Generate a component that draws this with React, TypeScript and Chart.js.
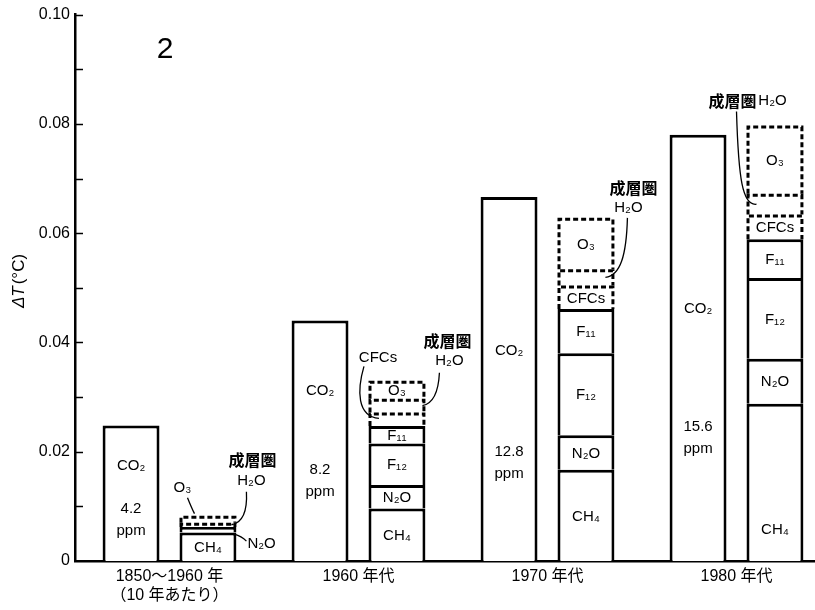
import React, { useEffect, useRef } from 'react';
import { Chart, registerables } from 'chart.js';

Chart.register(...registerables);

// ---- data (ΔT contributions, °C) ----
const groupLabels: (string | string[])[] = [['1850～1960 年', '（10 年あたり）'], '1960 年代', '1970 年代', '1980 年代'];
const co2 = [0.0248, 0.044, 0.0666, 0.078];
const co2ppm = ['4.2', '8.2', '12.8', '15.6'];
const ch4 = [0.0052, 0.0096, 0.0167, 0.0288];
const n2o = [0.001, 0.0043, 0.0063, 0.0082];
const f12 = [null, 0.0076, 0.015, 0.0148];
const f11 = [null, 0.0032, 0.0081, 0.0071];
const cfcs = [null, 0.0025, 0.0043, 0.0045];
const stratH2O = [0.0008, 0.0025, 0.003, 0.0038];
const o3 = [0.0013, 0.0033, 0.0094, 0.0125];
const yTickValues = [0, 0.02, 0.04, 0.06, 0.08, 0.1];
const yTickLabels = ['0', '0.02', '0.04', '0.06', '0.08', '0.10'];

// label anchor heights inside CO2 bars (data units)
const co2NameY = [0.0175, 0.0312, 0.0385, 0.0462];
const co2PpmY = [0.0096, 0.0166, 0.0199, 0.0245];

const SANS = "'Liberation Sans', 'Noto Sans CJK JP', sans-serif";
const JP = "'Noto Sans CJK JP', sans-serif";

const D = { co2: 0, ch4: 1, n2o: 2, f12: 3, f11: 4, cfcs: 5, h2o: 6, o3: 7 };
const innerText: (string | null)[] = [null, 'CH₄', 'N₂O', 'F₁₂', 'F₁₁', 'CFCs', null, 'O₃'];
const outsideLabel: Record<number, number[]> = { 2: [0], 5: [1], 7: [0] };

function rectOf(chart: any, di: number, i: number) {
  const el: any = chart.getDatasetMeta(di).data[i];
  const p = el.getProps(['x', 'y', 'base', 'width'], true);
  return {
    l: p.x - p.width / 2,
    r: p.x + p.width / 2,
    t: Math.min(p.y, p.base),
    b: Math.max(p.y, p.base),
    cx: p.x,
    cy: (p.y + p.base) / 2,
  };
}

function txt(ctx: CanvasRenderingContext2D, s: string, x: number, y: number, font: string, align: CanvasTextAlign = 'center') {
  ctx.font = font;
  ctx.textAlign = align;
  ctx.textBaseline = 'middle';
  ctx.fillStyle = '#000';
  ctx.fillText(s, x, y);
}

const annotPlugin = {
  id: 'annot',
  afterDraw(chart: any) {
    const ctx: CanvasRenderingContext2D = chart.ctx;
    const ys = chart.scales.y;
    const area = chart.chartArea;
    ctx.save();

    // inner y ticks (major + minor)
    ctx.strokeStyle = '#000';
    ctx.lineWidth = 1.5;
    for (let k = 1; k <= 10; k++) {
      const y = Math.round(ys.getPixelForValue(k / 100)) + 0.5;
      ctx.beginPath();
      ctx.moveTo(area.left, y);
      ctx.lineTo(area.left + 8, y);
      ctx.stroke();
    }

    // dashed outlines
    chart.data.datasets.forEach((ds: any, di: number) => {
      if (!ds.dashed) return;
      ds.data.forEach((v: any, i: number) => {
        if (v == null) return;
        const R = rectOf(chart, di, i);
        const l = R.l + 1.5, r = R.r - 1.5, t = R.t + 1.5;
        ctx.save();
        ctx.setLineDash([5, 3]);
        ctx.lineWidth = 3;
        ctx.strokeStyle = '#000';
        ctx.beginPath();
        ctx.moveTo(l, R.b);
        ctx.lineTo(l, t);
        ctx.lineTo(r, t);
        ctx.lineTo(r, R.b);
        ctx.stroke();
        ctx.restore();
      });
    });

    const F = `15px ${SANS}`;
    // CO2 bar texts
    co2.forEach((_, i) => {
      const R = rectOf(chart, D.co2, i);
      txt(ctx, 'CO₂', R.cx, ys.getPixelForValue(co2NameY[i]), F);
      const py = ys.getPixelForValue(co2PpmY[i]);
      txt(ctx, co2ppm[i], R.cx, py, F);
      txt(ctx, 'ppm', R.cx, py + 22, F);
    });

    // inner segment labels
    innerText.forEach((s, di) => {
      if (!s) return;
      const ds = chart.data.datasets[di];
      ds.data.forEach((v: any, i: number) => {
        if (v == null) return;
        if (outsideLabel[di] && outsideLabel[di].includes(i)) return;
        const R = rectOf(chart, di, i);
        let y = R.cy + 1;
        if (di === D.ch4 && R.b - R.t > 120) y = R.b - 31;
        txt(ctx, s, R.cx, y, F);
      });
    });

    ctx.strokeStyle = '#000';
    ctx.lineWidth = 1.3;
    const JPF = `bold 16px ${JP}`;

    // group 1 (1850-1960)
    {
      const O = rectOf(chart, D.o3, 0);
      const H = rectOf(chart, D.h2o, 0);
      const N = rectOf(chart, D.n2o, 0);
      txt(ctx, 'O₃', O.l + 3, O.t - 28, F);
      ctx.beginPath();
      ctx.moveTo(O.l + 8, O.t - 18);
      ctx.quadraticCurveTo(O.l + 12, O.t - 8, O.l + 15, O.t - 2);
      ctx.stroke();
      txt(ctx, 'N₂O', N.r + 11, N.t + 17, F, 'left');
      ctx.beginPath();
      ctx.moveTo(N.r - 2, N.t + 7);
      ctx.quadraticCurveTo(N.r + 5, N.t + 9, N.r + 10, N.t + 14);
      ctx.stroke();
      txt(ctx, '成層圏', H.r + 16, O.t - 56, JPF);
      txt(ctx, 'H₂O', H.r + 15, O.t - 35, F);
      ctx.beginPath();
      ctx.moveTo(H.r + 10, H.t - 31);
      ctx.bezierCurveTo(H.r + 11, H.t - 12, H.r + 6, H.t, H.r - 5, H.t + 2);
      ctx.stroke();
    }
    // group 2 (1960s)
    {
      const O = rectOf(chart, D.o3, 1);
      const H = rectOf(chart, D.h2o, 1);
      const C = rectOf(chart, D.cfcs, 1);
      txt(ctx, 'CFCs', C.cx - 19, C.t - 55, F);
      ctx.beginPath();
      ctx.moveTo(C.cx - 33, C.t - 46);
      ctx.bezierCurveTo(C.cx - 40, C.t - 22, C.cx - 40, C.t + 4, C.cx - 18, C.t + 6);
      ctx.stroke();
      txt(ctx, '成層圏', H.r + 22, O.t - 40, JPF);
      txt(ctx, 'H₂O', H.r + 24, O.t - 20, F);
      const mid = H.cy;
      ctx.beginPath();
      ctx.moveTo(H.r + 14, O.t - 8);
      ctx.bezierCurveTo(H.r + 13, O.t + 12, H.r + 8, mid - 2, H.r - 3, mid);
      ctx.stroke();
    }
    // group 3 (1970s)
    {
      const O = rectOf(chart, D.o3, 2);
      const H = rectOf(chart, D.h2o, 2);
      txt(ctx, '成層圏', H.r + 19, O.t - 30, JPF);
      txt(ctx, 'H₂O', H.r + 14, O.t - 10, F);
      const mid = H.cy;
      ctx.beginPath();
      ctx.moveTo(H.r + 13, O.t);
      ctx.bezierCurveTo(H.r + 12, mid - 22, H.r + 6, mid - 2, H.r - 9, mid);
      ctx.stroke();
    }
    // group 4 (1980s)
    {
      const O = rectOf(chart, D.o3, 3);
      const H = rectOf(chart, D.h2o, 3);
      txt(ctx, '成層圏', H.l - 14, O.t - 25, JPF);
      txt(ctx, 'H₂O', H.l + 26, O.t - 25, F);
      const mid = H.cy;
      ctx.beginPath();
      ctx.moveTo(H.l - 10, O.t - 14);
      ctx.bezierCurveTo(H.l - 8, mid - 25, H.l - 4, mid + 2, H.l + 10, mid);
      ctx.stroke();
    }

    // panel number
    txt(ctx, '2', 165, 50, `30px ${SANS}`);

    // y-axis title ΔT(°C)
    ctx.save();
    ctx.translate(19, 281);
    ctx.rotate(-Math.PI / 2);
    ctx.textBaseline = 'middle';
    ctx.fillStyle = '#000';
    const f1 = `italic 17px ${SANS}`;
    const f2 = `17px ${SANS}`;
    ctx.font = f1;
    const w1 = ctx.measureText('ΔT').width;
    ctx.font = f2;
    const w2 = ctx.measureText('(°C)').width;
    const x0 = -(w1 + w2 + 2) / 2;
    ctx.textAlign = 'left';
    ctx.font = f1;
    ctx.fillText('ΔT', x0, 0);
    ctx.font = f2;
    ctx.fillText('(°C)', x0 + w1 + 2, 0);
    ctx.restore();

    ctx.restore();
  },
};

export default function App() {
  const ref = useRef<HTMLCanvasElement>(null);
  useEffect(() => {
    const solid = (label: string, data: any[]) => ({
      label, data, stack: 'gas', backgroundColor: '#fff', borderColor: '#000', borderWidth: 3,
    });
    const dashed = (label: string, data: any[]) => ({
      label, data, stack: 'gas', backgroundColor: 'rgba(255,255,255,0)', borderWidth: 0, dashed: true,
    });
    const chart = new Chart(ref.current as HTMLCanvasElement, {
      type: 'bar',
      data: {
        labels: groupLabels as any,
        datasets: [
          { label: 'CO₂', data: co2, stack: 'co2', backgroundColor: '#fff', borderColor: '#000', borderWidth: 3 },
          solid('CH₄', ch4),
          solid('N₂O', n2o),
          solid('F₁₂', f12),
          solid('F₁₁', f11),
          dashed('CFCs', cfcs),
          dashed('成層圏 H₂O', stratH2O),
          dashed('O₃', o3),
        ] as any,
      },
      options: {
        animation: false,
        responsive: false,
        devicePixelRatio: 1,
        layout: { padding: { top: 13, left: 0, right: 0, bottom: 0 } },
        datasets: { bar: { categoryPercentage: 0.814, barPercentage: 0.74 } } as any,
        plugins: { legend: { display: false }, tooltip: { enabled: false }, title: { display: false } },
        scales: {
          x: {
            type: 'category',
            offset: true,
            grid: { display: false, drawTicks: false },
            border: { display: true, color: '#000', width: 2.5 },
            ticks: { color: '#000', font: { family: SANS, size: 16 }, padding: 6, maxRotation: 0, autoSkip: false },
            afterFit: (s: any) => { s.height = 49; },
          },
          y: {
            min: 0,
            max: 0.1,
            stacked: true,
            grid: { display: false, drawTicks: false },
            border: { display: true, color: '#000', width: 2.5 },
            ticks: {
              color: '#000',
              font: { family: SANS, size: 16 },
              padding: 5,
              callback: (_v: any, i: number) => yTickLabels[i],
            },
            afterBuildTicks: (s: any) => { s.ticks = yTickValues.map((v) => ({ value: v })); },
            afterFit: (s: any) => { s.width = 75; },
          },
        },
      } as any,
      plugins: [annotPlugin],
    });
    return () => chart.destroy();
  }, []);
  return (
    <div style={{ position: 'fixed', left: 0, top: 0, width: 815, height: 610, overflow: 'hidden', background: '#fff' }}>
      <canvas ref={ref} width={831} height={610} style={{ display: 'block' }} />
    </div>
  );
}
